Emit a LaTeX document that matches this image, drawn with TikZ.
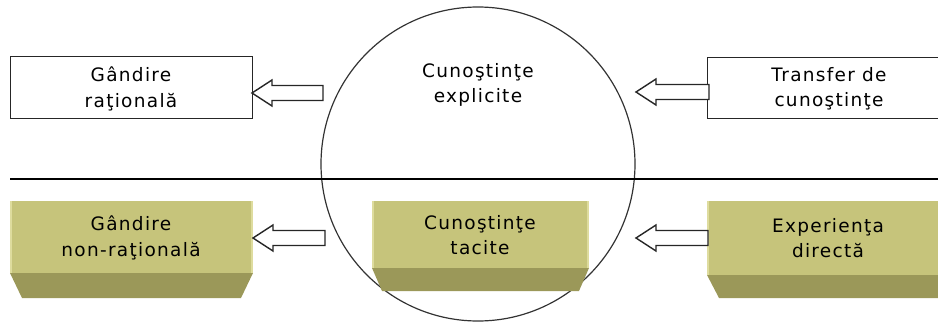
\documentclass[tikz,border=0pt]{standalone}
\usepackage{fontspec}
\setmainfont{DejaVu Sans}[LetterSpace=7]
\usetikzlibrary{calc}
\definecolor{faceolive}{HTML}{C6C47B}
\definecolor{baseolive}{HTML}{9B9859}
\definecolor{edgelight}{HTML}{DEDC9E}
\tikzset{
  plainbox/.style={draw=black!85, line width=1.4pt, fill=white},
  label/.style={font=\fontsize{18.5}{25.5}\selectfont, align=center, inner sep=0pt, text=black},
  blockarrow/.style={draw=black!85, line width=1.4pt, fill=white, line join=miter},
}
% raised olive block: front face plus slanted base strip
\newcommand{\oliveblock}[6]{% left, top, right, facebottom, basebottom, inset
  \fill[baseolive] (#1,#4) -- (#3,#4) -- (#3-#6,#5) -- (#1+#6,#5) -- cycle;
  \fill[faceolive] (#1,#2) rectangle (#3,#4);
  \fill[edgelight] (#1,#2) rectangle (#1+2,#4);
  \fill[edgelight] (#3-2,#2) rectangle (#3,#4);
}
% left-pointing hollow block arrow from a tail point to a tip point
\newcommand{\leftarrowblock}[2]{% tail, tip
  \draw[blockarrow] (#2) -- ++(20,-13) -- ++(0,5.5) -- ($(#1)+(0,-7.5)$)
    -- ($(#1)+(0,7.5)$) -- ($(#2)+(20,7.5)$) -- ++(0,5.5) -- cycle;
}
\begin{document}
\begin{tikzpicture}[x=1pt, y=-1pt]
\useasboundingbox (0,0) rectangle (938,322);
\clip (0,0) rectangle (938,322);

% central circle and dividing line
\node[circle, draw=black!80, line width=1.2pt, minimum size=314pt, inner sep=0pt] (core) at (478,164) {};
\coordinate (divL) at (10,179);
\coordinate (divR) at (940,179);
\draw[line width=1.4pt] (divL) -- (divR);

% upper row
\node[plainbox, minimum width=242pt, minimum height=62pt, anchor=north west] (ratbox) at (10,56) {};
\node[label] (rat) at (131,89) {Gândire\\raţională};
\node[plainbox, minimum width=242pt, minimum height=61pt, anchor=north west] (transbox) at (707,57) {};
\node[label] (trans) at (829,89) {Transfer de\\cunoştinţe};
\node[label] (expl) at (478,85) {Cunoştinţe\\explicite};

% lower row
\oliveblock{10}{201}{253}{273}{298}{12}
\oliveblock{372}{201}{589}{268}{291}{10}
\oliveblock{707}{201}{950}{275}{298}{12}
\node[label] (nonrat) at (131,238) {Gândire\\non-raţională};
\node[label] (tacit) at (480,235) {Cunoştinţe\\tacite};
\node[label] (exp) at (828,238) {Experienţa\\directă};

% block arrows
\coordinate (t1) at (323,93);  \coordinate (h1) at (252,93);
\coordinate (t2) at (709,92);  \coordinate (h2) at (636,92);
\coordinate (t3) at (325,238); \coordinate (h3) at (253,238);
\coordinate (t4) at (708,238); \coordinate (h4) at (636,238);
\leftarrowblock{t1}{h1}
\leftarrowblock{t2}{h2}
\leftarrowblock{t3}{h3}
\leftarrowblock{t4}{h4}
\end{tikzpicture}
\end{document}
